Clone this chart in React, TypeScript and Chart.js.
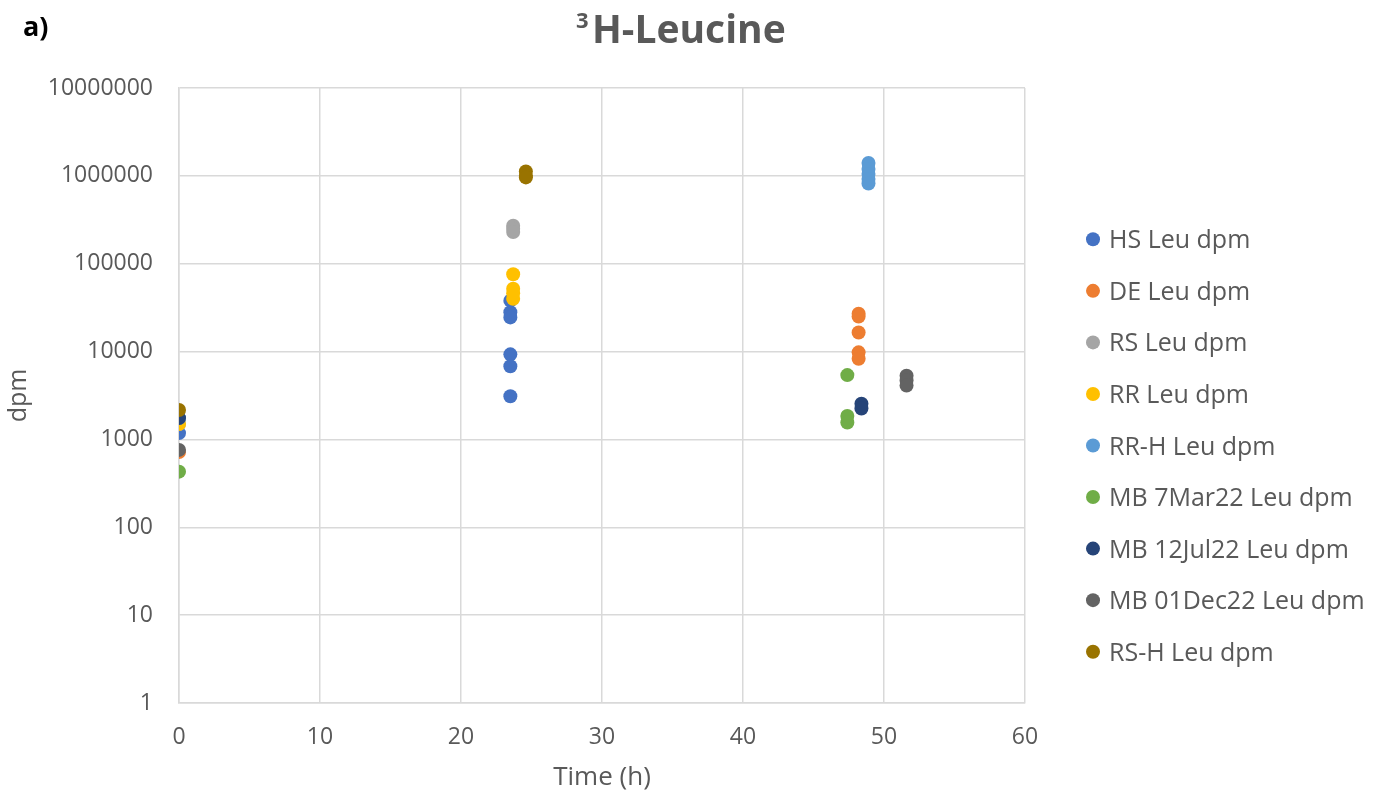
import React, { useEffect, useRef } from "react";
import { Chart, registerables } from "chart.js";

Chart.register(...registerables);

const seriesNames = [
  "HS Leu dpm",
  "DE Leu dpm",
  "RS Leu dpm",
  "RR Leu dpm",
  "RR-H Leu dpm",
  "MB 7Mar22 Leu dpm",
  "MB 12Jul22 Leu dpm",
  "MB 01Dec22 Leu dpm",
  "RS-H Leu dpm",
];

const seriesColors = [
  "#4472C4",
  "#ED7D31",
  "#A5A5A5",
  "#FFC000",
  "#5B9BD5",
  "#70AD47",
  "#264478",
  "#636363",
  "#997300",
];

// time (h) values for each series
const hsTime = [0, 23.5, 23.5, 23.5, 23.5, 23.5, 23.5];
const hsDpm = [1180, 38000, 28000, 24500, 9300, 6800, 3100];

const deTime = [0, 48.2, 48.2, 48.2, 48.2, 48.2];
const deDpm = [720, 27000, 25000, 16500, 9800, 8300];

const rsTime = [0, 23.7, 23.7, 23.7];
const rsDpm = [1500, 270000, 250000, 230000];

const rrTime = [0, 23.7, 23.7, 23.7, 23.7];
const rrDpm = [1500, 76000, 52000, 46000, 40000];

const rrhTime = [0, 48.9, 48.9, 48.9, 48.9, 48.9];
const rrhDpm = [1750, 1400000, 1200000, 1050000, 920000, 820000];

const mbMarTime = [0, 47.4, 47.4, 47.4];
const mbMarDpm = [430, 5400, 1850, 1560];

const mbJulTime = [0, 48.4, 48.4];
const mbJulDpm = [1750, 2550, 2250];

const mbDecTime = [0, 51.6, 51.6, 51.6];
const mbDecDpm = [760, 5300, 4700, 4100];

const rshTime = [0, 24.6, 24.6, 24.6];
const rshDpm = [2160, 1120000, 1000000, 960000];

const allTimes = [hsTime, deTime, rsTime, rrTime, rrhTime, mbMarTime, mbJulTime, mbDecTime, rshTime];
const allDpm = [hsDpm, deDpm, rsDpm, rrDpm, rrhDpm, mbMarDpm, mbJulDpm, mbDecDpm, rshDpm];

const yTickValues = [1, 10, 100, 1000, 10000, 100000, 1000000, 10000000];
const xTickValues = [0, 10, 20, 30, 40, 50, 60];

const TEXT = "#595959";
const GRID = "#d9d9d9";
const FONT = "'Open Sans', sans-serif";

const overlayPlugin = {
  id: "overlay",
  afterDraw(chart: any) {
    const ctx = chart.ctx;
    ctx.save();
    // panel letter
    ctx.fillStyle = "#000";
    ctx.font = `bold 27px ${FONT}`;
    ctx.textAlign = "left";
    ctx.textBaseline = "alphabetic";
    ctx.fillText("a)", 23, 36);
    // title with superscript
    ctx.fillStyle = TEXT;
    ctx.font = `bold 22px ${FONT}`;
    ctx.fillText("3", 576, 28);
    ctx.font = `bold 39px ${FONT}`;
    ctx.fillText("H-Leucine", 592, 43);
    // legend
    const ds = chart.data.datasets;
    ctx.font = `25px ${FONT}`;
    for (let i = 0; i < ds.length; i++) {
      const cy = 239.3 + i * 51.55;
      ctx.beginPath();
      ctx.fillStyle = ds[i].backgroundColor;
      ctx.arc(1093, cy, 7, 0, Math.PI * 2);
      ctx.fill();
      ctx.fillStyle = TEXT;
      ctx.fillText(ds[i].label, 1109, cy + 9);
    }
    ctx.restore();
  },
};

export default function App() {
  const ref = useRef<HTMLCanvasElement | null>(null);

  useEffect(() => {
    if (!ref.current) return;
    const n = seriesNames.length;
    const datasets = seriesNames.map((name, i) => ({
      label: name,
      data: allTimes[i].map((t, j) => ({ x: t, y: allDpm[i][j] })),
      backgroundColor: seriesColors[i],
      borderColor: seriesColors[i],
      borderWidth: 0,
      pointRadius: 7,
      pointHoverRadius: 7,
      order: n - i,
    }));

    const chart = new Chart(ref.current, {
      type: "scatter",
      data: { datasets },
      plugins: [overlayPlugin],
      options: {
        animation: false,
        responsive: false,
        maintainAspectRatio: false,
        layout: { padding: { top: 88, right: 371, bottom: 0, left: 0 } },
        plugins: {
          legend: { display: false },
          title: { display: false },
          tooltip: { enabled: false },
        },
        scales: {
          x: {
            type: "linear",
            min: 0,
            max: 60,
            afterBuildTicks: (scale: any) => {
              scale.ticks = xTickValues.map((v) => ({ value: v }));
            },
            afterFit: (scale: any) => {
              scale.height = 95;
            },
            grid: { color: GRID, lineWidth: 1.5, drawTicks: false },
            border: { color: GRID, width: 1.5 },
            ticks: {
              color: TEXT,
              font: { family: FONT, size: 23 },
              padding: 21,
              callback: (v: any) => String(v),
            },
            title: {
              display: true,
              text: "Time (h)",
              color: TEXT,
              font: { family: FONT, size: 26 },
              padding: { top: 0, bottom: 5 },
            },
          },
          y: {
            type: "logarithmic",
            min: 1,
            max: 10000000,
            afterBuildTicks: (scale: any) => {
              scale.ticks = yTickValues.map((v) => ({ value: v }));
            },
            afterFit: (scale: any) => {
              scale.width = 179;
            },
            grid: { color: GRID, lineWidth: 1.5, drawTicks: false },
            border: { color: GRID, width: 1.5 },
            ticks: {
              color: TEXT,
              font: { family: FONT, size: 23 },
              padding: 26,
              autoSkip: false,
              callback: (v: any) => String(Math.round(Number(v))),
            },
            title: {
              display: true,
              text: "dpm",
              color: TEXT,
              font: { family: FONT, size: 25 },
              padding: { top: 4, bottom: 0 },
            },
          },
        },
      },
    } as any);

    return () => chart.destroy();
  }, []);

  return (
    <div style={{ position: "fixed", left: 0, top: 0, width: 1396, height: 798, background: "#fff" }}>
      <canvas ref={ref} width={1396} height={798} style={{ width: 1396, height: 798 }} />
    </div>
  );
}
